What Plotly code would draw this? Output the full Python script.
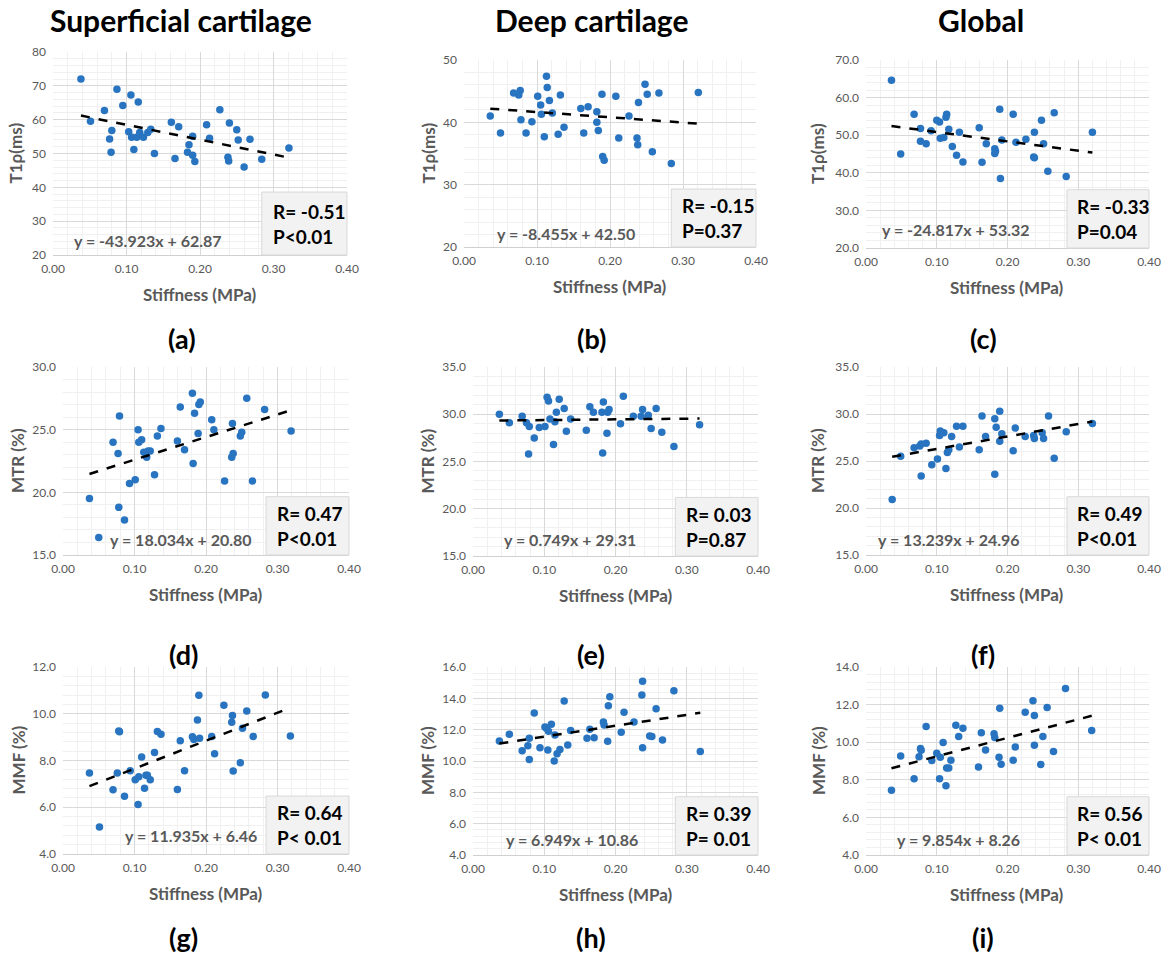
import plotly.graph_objects as go

W, H = 1171, 958          # browser window = figure size

# ---------------- data ----------------
col_titles = ["Superficial cartilage", "Deep cartilage", "Global"]
panel_labels = ["(a)", "(b)", "(c)", "(d)", "(e)", "(f)", "(g)", "(h)", "(i)"]
y_titles = ["T1\u03c1(ms)", "T1\u03c1(ms)", "T1\u03c1(ms)", "MTR (%)", "MTR (%)", "MTR (%)",
            "MMF (%)", "MMF (%)", "MMF (%)"]
x_title = "Stiffness (MPa)"

a_x = [0.038, 0.051, 0.070, 0.077, 0.080, 0.079, 0.087, 0.095, 0.103, 0.106, 0.107, 0.110, 0.116,
       0.114, 0.118, 0.123, 0.129, 0.133, 0.138, 0.161, 0.166, 0.171, 0.183, 0.185, 0.190, 0.190,
       0.193, 0.209, 0.213, 0.227, 0.238, 0.239, 0.240, 0.250, 0.252, 0.260, 0.268, 0.284, 0.321]
a_y = [72.0, 59.5, 62.7, 54.3, 56.8, 50.4, 69.0, 64.2, 56.4, 67.3, 54.8, 51.2, 65.2,
       54.8, 56.2, 54.8, 56.2, 57.2, 50.0, 59.2, 48.5, 57.9, 50.4, 52.6, 55.1, 49.5,
       47.6, 58.5, 54.5, 62.9, 48.9, 47.8, 59.0, 57.0, 54.0, 46.0, 54.2, 48.3, 51.6]

b_x = [0.036, 0.050, 0.068, 0.075, 0.077, 0.078, 0.085, 0.093, 0.101, 0.105, 0.106, 0.110, 0.113,
       0.114, 0.117, 0.121, 0.129, 0.132, 0.137, 0.160, 0.164, 0.170, 0.182, 0.182, 0.184, 0.189,
       0.190, 0.192, 0.208, 0.212, 0.226, 0.237, 0.238, 0.239, 0.248, 0.251, 0.258, 0.267, 0.284, 0.321]
b_y = [41.0, 38.3, 44.7, 44.4, 45.1, 40.4, 38.3, 40.1, 44.2, 42.8, 41.3, 37.7, 47.4,
       45.6, 43.5, 41.5, 38.1, 44.4, 39.2, 42.2, 38.3, 42.5, 41.7, 40.0, 38.7, 44.5,
       34.5, 33.9, 44.2, 37.5, 41.0, 37.5, 36.4, 43.2, 46.1, 44.5, 35.3, 44.7, 33.4, 44.8]

c_x = [0.036, 0.049, 0.068, 0.077, 0.077, 0.085, 0.092, 0.100, 0.104, 0.105, 0.110, 0.113, 0.114,
       0.117, 0.122, 0.128, 0.132, 0.137, 0.160, 0.164, 0.170, 0.182, 0.182, 0.183, 0.189, 0.190,
       0.192, 0.208, 0.212, 0.226, 0.237, 0.238, 0.238, 0.248, 0.251, 0.257, 0.266, 0.283, 0.320]
c_y = [64.6, 45.0, 55.6, 51.8, 48.4, 47.7, 51.2, 54.0, 53.5, 49.2, 49.4, 54.8, 55.6,
       51.6, 47.0, 44.7, 50.8, 42.9, 52.0, 42.8, 47.7, 46.4, 45.1, 45.7, 56.9, 38.5,
       48.7, 55.6, 48.1, 48.9, 44.2, 44.0, 50.8, 54.0, 47.7, 40.4, 56.0, 39.0, 50.8]

d_x = [0.037, 0.050, 0.070, 0.077, 0.079, 0.078, 0.086, 0.093, 0.101, 0.105, 0.106, 0.110, 0.113,
       0.117, 0.119, 0.122, 0.128, 0.132, 0.137, 0.160, 0.164, 0.170, 0.181, 0.182, 0.184, 0.189,
       0.190, 0.192, 0.208, 0.211, 0.226, 0.236, 0.238, 0.237, 0.248, 0.250, 0.257, 0.265, 0.282, 0.319]
d_y = [19.5, 16.4, 24.0, 23.1, 26.1, 18.8, 17.8, 20.7, 21.0, 25.0, 24.0, 24.2, 23.2,
       22.8, 23.3, 23.3, 21.4, 24.5, 25.1, 24.1, 26.8, 23.4, 27.9, 22.3, 26.3, 24.7,
       27.0, 27.2, 25.8, 25.0, 20.9, 22.8, 23.1, 25.5, 24.5, 24.8, 27.5, 20.9, 26.6, 24.9]

e_x = [0.037, 0.051, 0.069, 0.075, 0.078, 0.079, 0.086, 0.093, 0.101, 0.104, 0.106, 0.108, 0.113,
       0.115, 0.117, 0.121, 0.128, 0.131, 0.137, 0.159, 0.164, 0.169, 0.181, 0.182, 0.183, 0.188,
       0.189, 0.191, 0.207, 0.211, 0.225, 0.236, 0.238, 0.246, 0.250, 0.257, 0.265, 0.282, 0.318]
e_y = [30.0, 29.1, 29.8, 29.1, 25.8, 28.7, 27.5, 28.6, 28.7, 31.8, 31.4, 29.5, 26.8,
       29.2, 30.2, 31.6, 30.6, 28.2, 29.5, 28.3, 30.8, 30.2, 30.2, 25.9, 31.3, 28.0,
       30.2, 30.5, 29.0, 31.9, 29.8, 29.8, 30.5, 29.9, 28.5, 30.6, 28.1, 26.6, 28.9]

f_x = [0.037, 0.049, 0.068, 0.076, 0.078, 0.078, 0.085, 0.093, 0.101, 0.104, 0.105, 0.110, 0.113,
       0.115, 0.117, 0.121, 0.128, 0.132, 0.137, 0.160, 0.164, 0.169, 0.182, 0.182, 0.184, 0.189,
       0.189, 0.192, 0.208, 0.211, 0.225, 0.237, 0.238, 0.249, 0.251, 0.258, 0.266, 0.283, 0.320]
f_y = [20.9, 25.5, 26.4, 26.6, 26.8, 23.4, 26.9, 24.6, 25.2, 27.7, 28.2, 28.0, 24.2,
       25.9, 26.2, 27.6, 28.7, 26.5, 28.7, 26.2, 29.8, 27.6, 29.5, 23.6, 28.6, 27.1,
       30.3, 27.9, 26.1, 28.5, 27.6, 27.7, 27.4, 28.0, 27.4, 29.8, 25.3, 28.1, 29.0]

g_x = [0.037, 0.051, 0.070, 0.076, 0.078, 0.079, 0.086, 0.094, 0.101, 0.105, 0.106, 0.110, 0.114,
       0.116, 0.118, 0.122, 0.128, 0.132, 0.137, 0.160, 0.164, 0.170, 0.181, 0.183, 0.188, 0.190,
       0.191, 0.208, 0.212, 0.225, 0.236, 0.237, 0.238, 0.248, 0.251, 0.257, 0.266, 0.283, 0.318]
g_y = [7.46, 5.15, 6.75, 7.46, 9.26, 9.23, 6.47, 7.56, 7.18, 6.12, 7.30, 8.15, 6.81,
       7.37, 7.37, 7.18, 8.34, 9.24, 9.12, 6.76, 8.85, 7.56, 9.02, 8.90, 9.73, 10.79,
       8.95, 9.03, 8.29, 10.36, 9.64, 9.92, 7.55, 7.90, 9.38, 10.12, 9.03, 10.80, 9.05]

h_x = [0.037, 0.051, 0.069, 0.077, 0.079, 0.079, 0.086, 0.094, 0.101, 0.103, 0.106, 0.105, 0.110,
       0.114, 0.115, 0.118, 0.122, 0.128, 0.133, 0.137, 0.160, 0.164, 0.170, 0.183, 0.184, 0.189,
       0.190, 0.192, 0.208, 0.212, 0.226, 0.237, 0.238, 0.238, 0.248, 0.251, 0.257, 0.266, 0.282, 0.319]
h_y = [11.28, 11.70, 10.66, 10.98, 11.45, 10.10, 13.06, 10.85, 12.17, 12.09, 11.90, 10.70, 12.34,
       10.00, 11.66, 10.47, 10.74, 13.83, 11.02, 11.94, 11.45, 12.02, 11.49, 12.49, 12.30, 11.26,
       13.53, 14.10, 11.83, 13.11, 12.49, 14.21, 15.09, 10.85, 11.60, 11.57, 13.34, 11.34, 14.49, 10.60]

i_x = [0.036, 0.049, 0.068, 0.075, 0.077, 0.078, 0.085, 0.093, 0.100, 0.104, 0.105, 0.109, 0.113,
       0.114, 0.117, 0.120, 0.127, 0.131, 0.137, 0.159, 0.163, 0.169, 0.181, 0.182, 0.188, 0.189,
       0.191, 0.208, 0.211, 0.225, 0.236, 0.238, 0.238, 0.247, 0.250, 0.256, 0.265, 0.282, 0.319]
i_y = [7.45, 9.27, 8.06, 9.23, 9.66, 9.57, 10.83, 9.02, 9.41, 8.06, 9.20, 9.98, 7.69,
       8.63, 8.63, 9.04, 10.90, 10.30, 10.74, 8.68, 10.50, 9.59, 10.45, 10.25, 9.20, 11.80,
       8.83, 9.04, 9.75, 11.59, 12.21, 11.42, 9.84, 8.82, 10.30, 11.84, 9.51, 12.86, 10.62]

slopes = [-43.923, -8.455, -24.817, 18.034, 0.749, 13.239, 11.935, 6.949, 9.854]
intercepts = [62.87, 42.50, 53.32, 20.80, 29.31, 24.96, 6.46, 10.86, 8.26]
eq_texts = ["y = -43.923x + 62.87", "y = -8.455x + 42.50", "y = -24.817x + 53.32",
            "y = 18.034x + 20.80", "y = 0.749x + 29.31", "y = 13.239x + 24.96",
            "y = 11.935x + 6.46", "y = 6.949x + 10.86", "y = 9.854x + 8.26"]
r_texts = ["R= -0.51", "R= -0.15", "R= -0.33", "R= 0.47", "R= 0.03", "R= 0.49",
           "R= 0.64", "R= 0.39", "R= 0.56"]
p_texts = ["P<0.01", "P=0.37", "P=0.04", "P<0.01", "P=0.87", "P<0.01",
           "P< 0.01", "P= 0.01", "P< 0.01"]
y_ranges = [(20, 80), (20, 50), (20, 70), (15, 30), (15, 35), (15, 35), (4, 12), (4, 16), (4, 14)]
y_dticks = [10, 10, 10, 5, 5, 5, 2, 2, 2]
y_formats = [".0f", ".0f", ".1f", ".1f", ".1f", ".1f", ".1f", ".1f", ".1f"]
x_range = (0, 0.4)
x_dtick = 0.1

xs = [a_x, b_x, c_x, d_x, e_x, f_x, g_x, h_x, i_x]
ys = [a_y, b_y, c_y, d_y, e_y, f_y, g_y, h_y, i_y]

# ---------------- layout (pixel positions in the window) ----------------
# plot area in pixels: (left, right, top, bottom)
areas = [
    (53, 347, 52, 255), (464, 756, 60, 247), (866, 1149, 60, 248),
    (63, 349, 367, 555), (473, 758, 367, 556), (866, 1149, 367, 555),
    (63, 349, 667, 854), (473, 758, 667, 855), (866, 1149, 667, 855),
]
eq_pos = [(148, 240), (566, 233), (956, 230), (181, 539), (570, 539), (949, 539),
          (191, 835), (572, 839), (958, 839)]
ytitle_x = [15, 428, 817, 18, 427, 818, 18, 427, 818]
col_title_pos = [(181, 20), (591, 20), (981, 20)]
label_pos = [(182, 338), (591, 338), (983, 338), (183, 654), (591, 654), (983, 654),
             (183, 937), (591, 937), (983, 937)]
BOX_X0 = 0.71      # stats box left edge, fraction of plot width
BOX_Y1 = 0.31      # stats box top edge, fraction of plot height

FONT = "Lato"
GRAY = "#595959"
BLUE = "#2874C0"

fig = go.Figure()
layout = dict(width=W, height=H, margin=dict(l=0, r=0, t=0, b=0, pad=0), autosize=False,
              paper_bgcolor="white", plot_bgcolor="white", showlegend=False,
              font=dict(family=FONT, color=GRAY))
annotations = []
shapes = []

def px_x(p):
    return p / W

def px_y(p):
    return 1 - p / H

for k in range(9):
    n = "" if k == 0 else str(k + 1)
    xa, ya = "x" + n, "y" + n
    l, r, t, b = areas[k]
    layout["xaxis" + n] = dict(
        domain=[px_x(l), px_x(r)], anchor=ya, range=list(x_range), dtick=x_dtick, tick0=0,
        tickformat=".2f", showgrid=True, gridcolor="#d9d9d9", gridwidth=1, zeroline=False,
        showline=True, linecolor="#d0d0d0", ticks="", fixedrange=True, automargin=False,
        ticklabelstandoff=3,
        tickfont=dict(family=FONT, size=12, color=GRAY),
        minor=dict(dtick=x_dtick / 5, tick0=0, showgrid=True, gridcolor="#f0f0f0", gridwidth=1),
    )
    lo, hi = y_ranges[k]
    layout["yaxis" + n] = dict(
        domain=[px_y(b), px_y(t)], anchor=xa, range=[lo, hi], dtick=y_dticks[k], tick0=lo,
        tickformat=y_formats[k], showgrid=True, gridcolor="#d9d9d9", gridwidth=1, zeroline=False,
        showline=False, ticks="", fixedrange=True, automargin=False, ticklabelstandoff=6,
        tickfont=dict(family=FONT, size=12, color=GRAY),
        minor=dict(dtick=y_dticks[k] / 5, tick0=lo, showgrid=True, gridcolor="#f0f0f0", gridwidth=1),
    )

    # scatter points
    fig.add_trace(go.Scatter(x=xs[k], y=ys[k], mode="markers", xaxis=xa, yaxis=ya,
                             marker=dict(color=BLUE, size=7.5, line=dict(width=0)),
                             hoverinfo="skip"))
    # linear trendline from the fitted equation
    x0, x1 = min(xs[k]), max(xs[k])
    fig.add_trace(go.Scatter(x=[x0, x1], y=[slopes[k] * x0 + intercepts[k], slopes[k] * x1 + intercepts[k]],
                             mode="lines", xaxis=xa, yaxis=ya,
                             line=dict(color="black", width=2.5, dash="dash"), hoverinfo="skip"))

    # stats box
    shapes.append(dict(type="rect", xref=xa + " domain", yref=ya + " domain",
                       x0=BOX_X0, x1=1.0, y0=0.0, y1=BOX_Y1,
                       fillcolor="#f2f2f2", line=dict(color="#d9d9d9", width=1), layer="above"))
    annotations.append(dict(text="<b>" + r_texts[k] + "<br>" + p_texts[k] + "</b>",
                            xref=xa + " domain", yref=ya + " domain", x=BOX_X0 + 0.03, y=BOX_Y1 / 2,
                            xanchor="left", yanchor="middle", align="left", showarrow=False,
                            font=dict(family=FONT, size=19, color="black")))
    # equation
    ex, ey = eq_pos[k]
    annotations.append(dict(text="<b>" + eq_texts[k] + "</b>", xref="paper", yref="paper",
                            x=px_x(ex), y=px_y(ey), xanchor="center", yanchor="middle",
                            showarrow=False, font=dict(family=FONT, size=16, color=GRAY)))
    # axis titles
    annotations.append(dict(text="<b>" + x_title + "</b>", xref="paper", yref="paper",
                            x=px_x((l + r) / 2), y=px_y(b + 39), xanchor="center", yanchor="middle",
                            showarrow=False, font=dict(family=FONT, size=17, color=GRAY)))
    annotations.append(dict(text="<b>" + y_titles[k] + "</b>", xref="paper", yref="paper",
                            x=px_x(ytitle_x[k]), y=px_y((t + b) / 2), xanchor="center",
                            yanchor="middle", textangle=-90, showarrow=False,
                            font=dict(family=FONT, size=17, color=GRAY)))
    # panel label
    lx, ly = label_pos[k]
    annotations.append(dict(text="<b>" + panel_labels[k] + "</b>", xref="paper", yref="paper",
                            x=px_x(lx), y=px_y(ly), xanchor="center", yanchor="middle",
                            showarrow=False, font=dict(family=FONT, size=27, color="black")))

for j in range(3):
    cx, cy = col_title_pos[j]
    annotations.append(dict(text="<b>" + col_titles[j] + "</b>", xref="paper", yref="paper",
                            x=px_x(cx), y=px_y(cy), xanchor="center", yanchor="middle",
                            showarrow=False, font=dict(family=FONT, size=30, color="black")))

layout["annotations"] = annotations
layout["shapes"] = shapes
fig.update_layout(**layout)
# remove the default page margin so the figure fills the window exactly
fig.write_html("out.html", config={"displayModeBar": False, "staticPlot": True},
               post_script="document.body.style.margin='0';document.body.style.overflow='hidden';")
